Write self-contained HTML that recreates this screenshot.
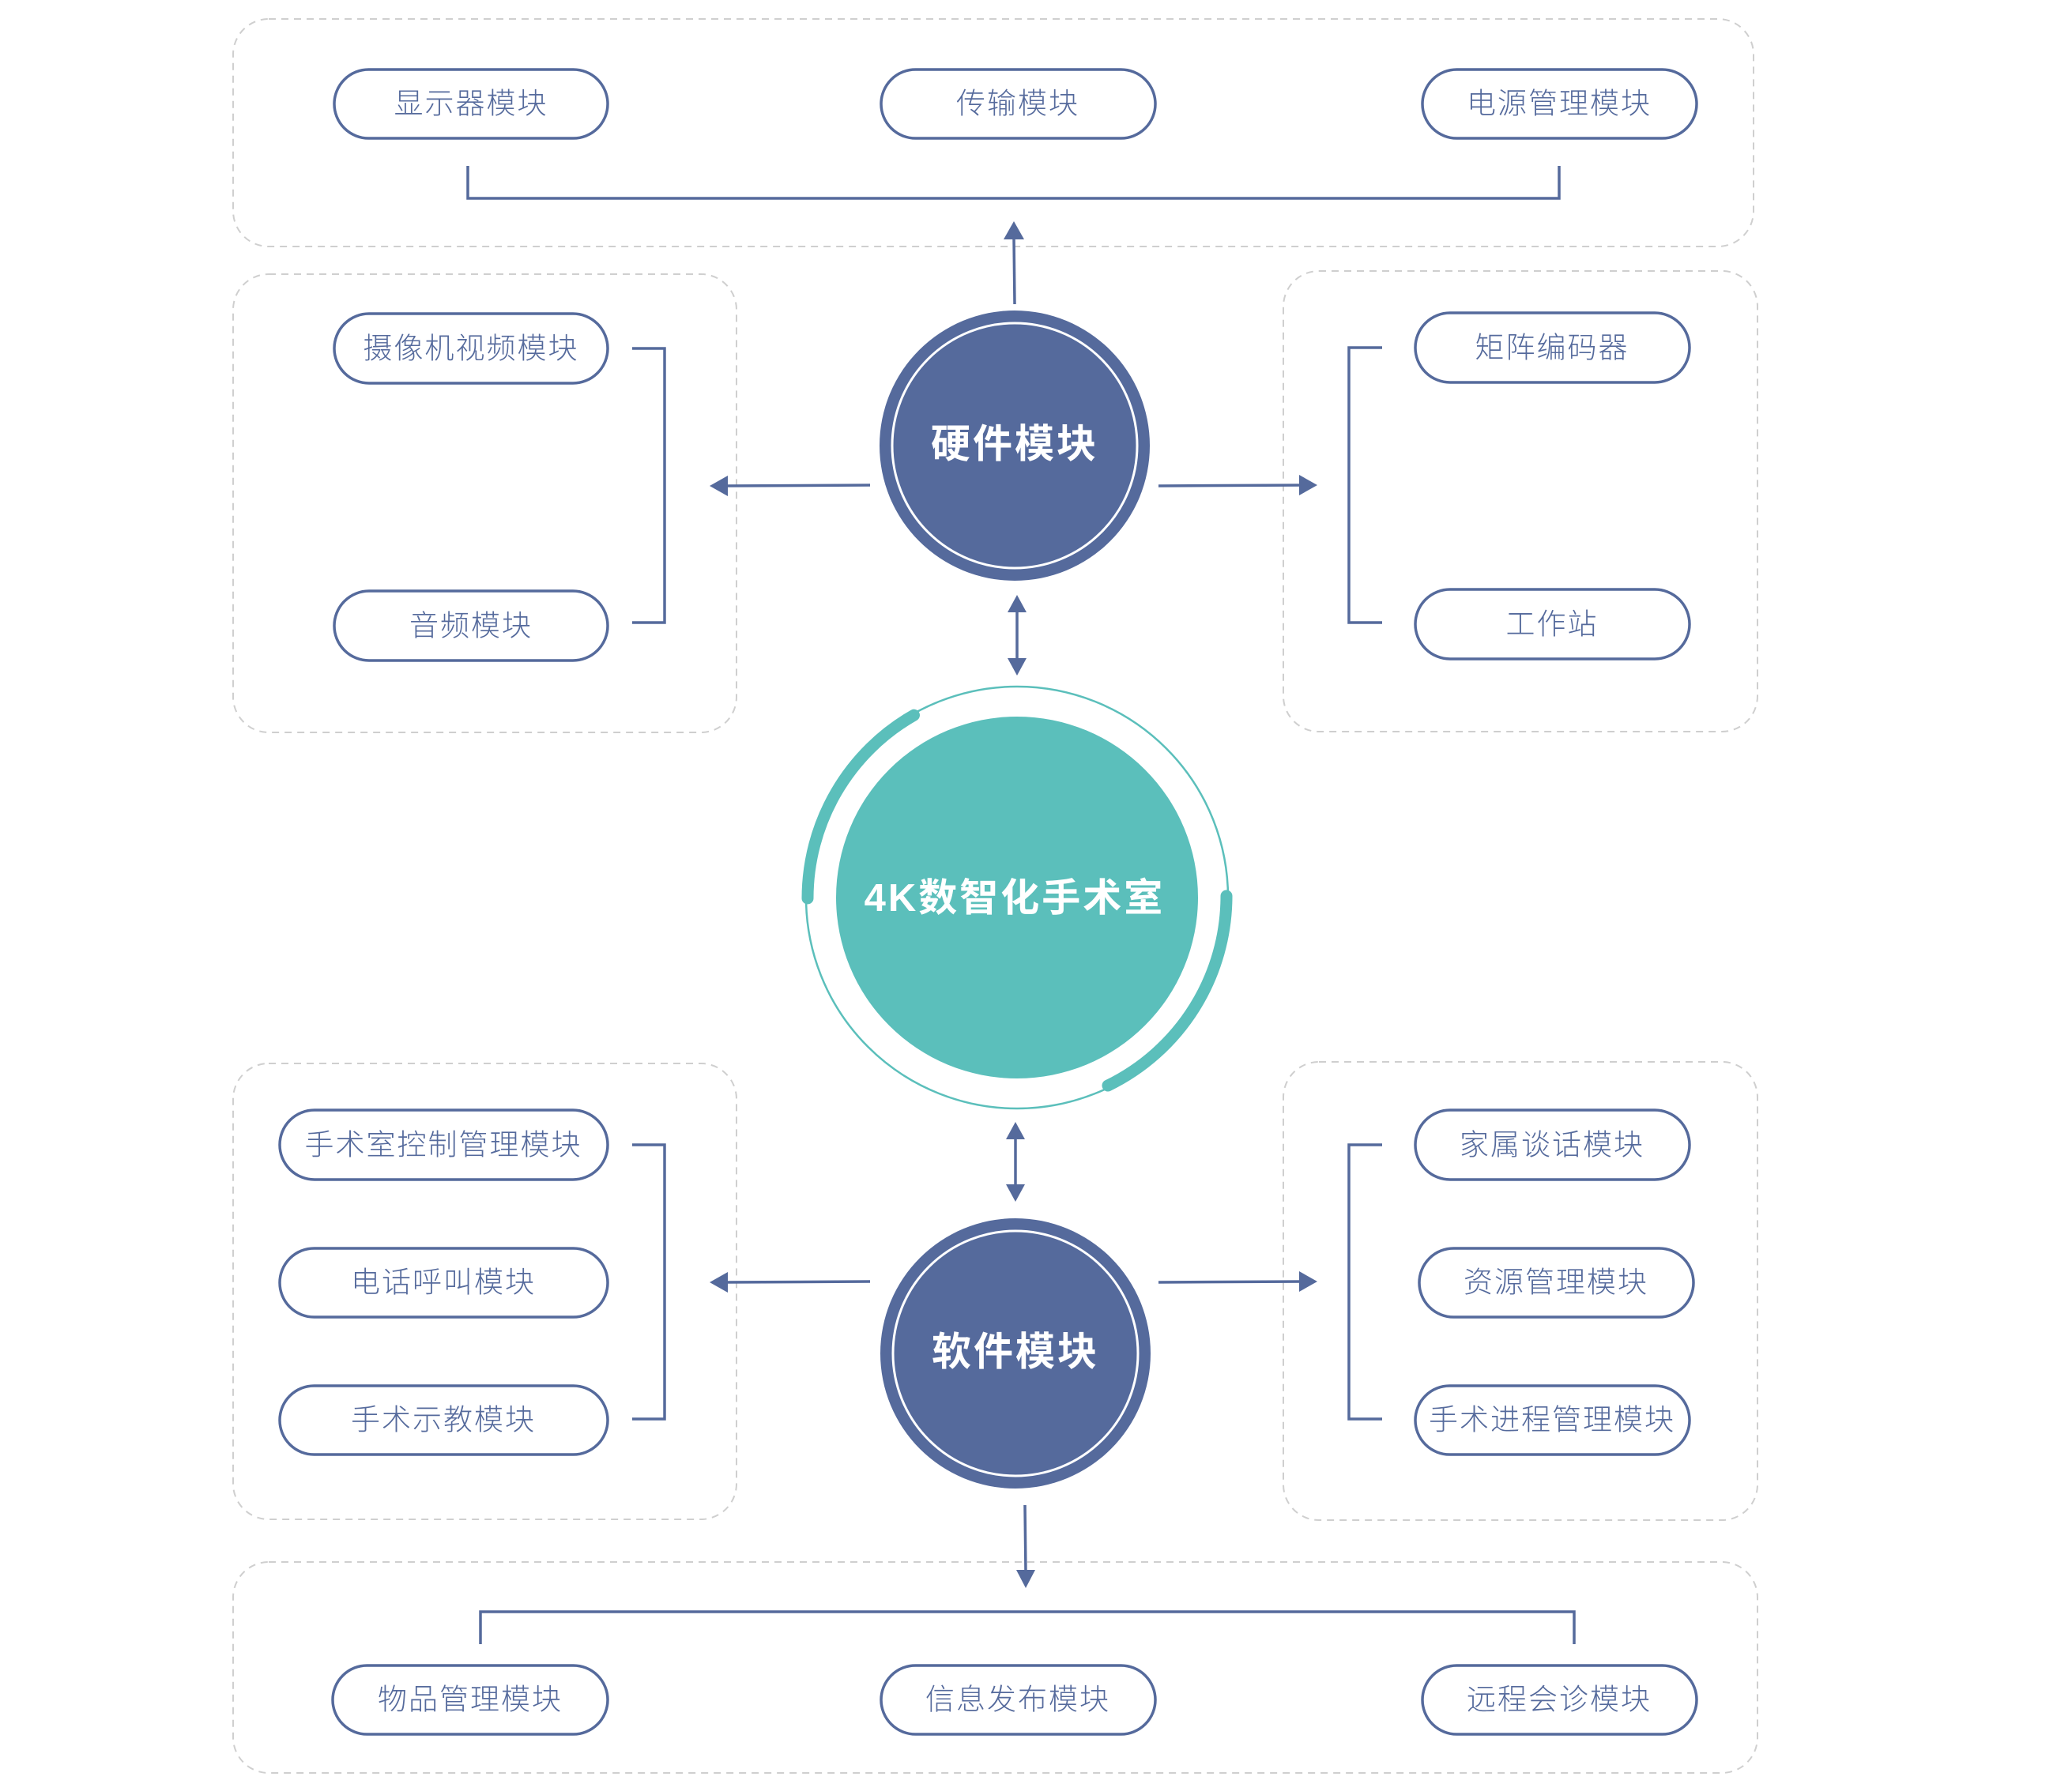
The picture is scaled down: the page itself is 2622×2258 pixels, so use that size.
<!DOCTYPE html>
<html><head><meta charset="utf-8"><style>
html,body{margin:0;padding:0;background:#fff;}
svg{display:block;}
.p{fill:#fff;stroke:#556a9c;stroke-width:3.5;}
.t{font-family:"Liberation Sans","Noto Sans CJK SC",sans-serif;font-weight:300;font-size:37px;fill:#556a9c;text-anchor:middle;dominant-baseline:central;letter-spacing:2px;}
.b{fill:none;stroke:#cfcfcf;stroke-width:2;stroke-dasharray:9 7;}
.l{fill:none;stroke:#556a9c;stroke-width:3.5;}
.a{fill:#556a9c;}
.ct{font-family:"Liberation Sans","Noto Sans CJK SC",sans-serif;font-weight:bold;font-size:50px;fill:#fff;text-anchor:middle;dominant-baseline:central;letter-spacing:3px;}
</style></head><body>
<svg width="2622" height="2258" viewBox="0 0 2622 2258" xmlns="http://www.w3.org/2000/svg">
<rect class="b" x="295" y="24" width="1924" height="288" rx="45"/>
<rect class="b" x="295" y="347" width="637" height="580" rx="45"/>
<rect class="b" x="1624" y="343" width="600" height="583" rx="45"/>
<rect class="b" x="295" y="1346" width="637" height="577" rx="45"/>
<rect class="b" x="1624" y="1344" width="600" height="580" rx="45"/>
<rect class="b" x="295" y="1977" width="1929" height="267" rx="45"/>

<rect class="p" x="423" y="88" width="346" height="87" rx="43.5"/><text class="t" x="596" y="131">显示器模块</text>
<rect class="p" x="1115" y="88" width="347" height="87" rx="43.5"/><text class="t" x="1288" y="131">传输模块</text>
<rect class="p" x="1800" y="88" width="347" height="87" rx="43.5"/><text class="t" x="1973" y="131">电源管理模块</text>
<polyline class="l" points="592,210 592,251 1973,251 1973,210"/>
<line class="l" x1="1284" y1="385" x2="1283" y2="300"/>
<polygon class="a" points="1283,280 1270,303 1296,303"/>

<circle cx="1284" cy="564" r="171" fill="#556a9c"/>
<circle cx="1284" cy="564" r="155" fill="none" stroke="#fff" stroke-width="3"/>
<text class="ct" x="1284" y="562">硬件模块</text>

<rect class="p" x="423" y="397" width="346" height="88" rx="44"/><text class="t" x="596" y="441">摄像机视频模块</text>
<rect class="p" x="423" y="748" width="346" height="88" rx="44"/><text class="t" x="596" y="792">音频模块</text>
<polyline class="l" points="800,441 841,441 841,788 800,788"/>
<line class="l" x1="1101" y1="614" x2="915" y2="615"/>
<polygon class="a" points="898,615 921,602 921,628"/>

<rect class="p" x="1791" y="396" width="347" height="88" rx="44"/><text class="t" x="1964" y="440">矩阵编码器</text>
<rect class="p" x="1791" y="746" width="347" height="88" rx="44"/><text class="t" x="1964" y="790">工作站</text>
<polyline class="l" points="1749,440 1707,440 1707,788 1749,788"/>
<line class="l" x1="1466" y1="615" x2="1650" y2="614"/>
<polygon class="a" points="1667,614 1644,601 1644,627"/>

<line class="l" x1="1287" y1="770" x2="1287" y2="838"/>
<polygon class="a" points="1287,753 1275,775 1299,775"/>
<polygon class="a" points="1287,855 1275,833 1299,833"/>

<circle cx="1287" cy="1136" r="229" fill="#5bbfbb"/>
<circle cx="1287" cy="1136" r="267" fill="none" stroke="#5bbfbb" stroke-width="2.5"/>
<path d="M 1154.5 904.2 A 267 267 0 0 0 1020 1136" fill="none" stroke="#5bbfbb" stroke-width="15" stroke-linecap="round" transform="translate(2,1)"/>
<path d="M 1554 1136 A 267 267 0 0 1 1404 1376" fill="none" stroke="#5bbfbb" stroke-width="15" stroke-linecap="round" transform="translate(-2,-2)"/>
<text class="ct" x="1284" y="1137" style="font-size:49px">4K数智化手术室</text>

<line class="l" x1="1285" y1="1437" x2="1285" y2="1504"/>
<polygon class="a" points="1285,1420 1273,1442 1297,1442"/>
<polygon class="a" points="1285,1521 1273,1499 1297,1499"/>

<circle cx="1285" cy="1713" r="171" fill="#556a9c"/>
<circle cx="1285" cy="1713" r="155" fill="none" stroke="#fff" stroke-width="3"/>
<text class="ct" x="1285" y="1711">软件模块</text>

<rect class="p" x="354" y="1405" width="415" height="88" rx="44"/><text class="t" x="561" y="1449">手术室控制管理模块</text>
<rect class="p" x="354" y="1580" width="415" height="87" rx="43.5"/><text class="t" x="561" y="1623">电话呼叫模块</text>
<rect class="p" x="354" y="1754" width="415" height="87" rx="43.5"/><text class="t" x="561" y="1797">手术示教模块</text>
<polyline class="l" points="800,1449 841,1449 841,1796 800,1796"/>
<line class="l" x1="1101" y1="1622" x2="915" y2="1623"/>
<polygon class="a" points="898,1623 921,1610 921,1636"/>

<rect class="p" x="1791" y="1405" width="347" height="88" rx="44"/><text class="t" x="1964" y="1449">家属谈话模块</text>
<rect class="p" x="1796" y="1580" width="347" height="87" rx="43.5"/><text class="t" x="1969" y="1623">资源管理模块</text>
<rect class="p" x="1791" y="1754" width="347" height="87" rx="43.5"/><text class="t" x="1964" y="1797">手术进程管理模块</text>
<polyline class="l" points="1749,1449 1707,1449 1707,1796 1749,1796"/>
<line class="l" x1="1466" y1="1623" x2="1650" y2="1622"/>
<polygon class="a" points="1667,1622 1644,1609 1644,1635"/>

<line class="l" x1="1297" y1="1905" x2="1298" y2="1990"/>
<polygon class="a" points="1298,2010 1286,1987 1310,1987"/>

<polyline class="l" points="608,2081 608,2040 1992,2040 1992,2081"/>
<rect class="p" x="421" y="2108" width="348" height="87" rx="43.5"/><text class="t" x="595" y="2151">物品管理模块</text>
<rect class="p" x="1115" y="2108" width="347" height="87" rx="43.5"/><text class="t" x="1288" y="2151">信息发布模块</text>
<rect class="p" x="1800" y="2108" width="347" height="87" rx="43.5"/><text class="t" x="1973" y="2151">远程会诊模块</text>
</svg>
</body></html>
